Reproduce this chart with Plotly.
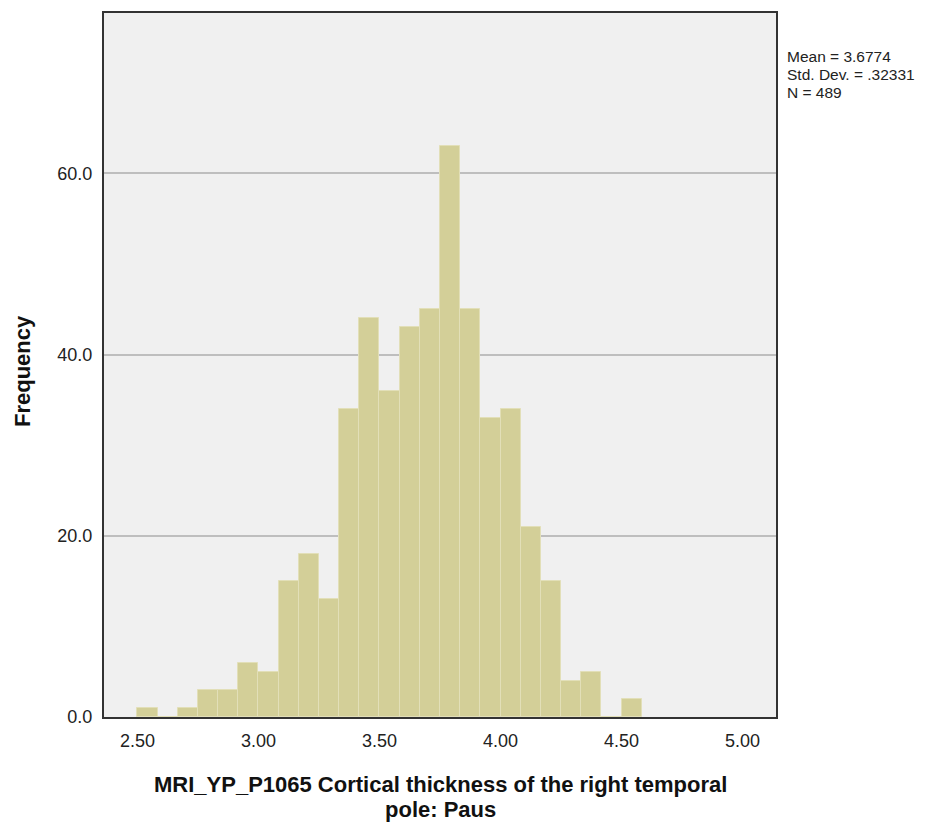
import plotly.graph_objects as go

# histogram bins (left edge of first bin, bin width) and counts
bin_start = 2.50
bin_width = 1 / 12
counts = [1, 0, 1, 3, 3, 6, 5, 15, 18, 13, 34, 44, 36, 43, 45, 63, 45, 33, 34, 21, 15, 4, 5, 0, 2]

x_ticks = [2.5, 3.0, 3.5, 4.0, 4.5, 5.0]
x_tick_labels = ["2.50", "3.00", "3.50", "4.00", "4.50", "5.00"]
y_ticks = [0, 20, 40, 60]
y_tick_labels = ["0.0", "20.0", "40.0", "60.0"]

stats_lines = ["Mean = 3.6774", "Std. Dev. = .32331", "N = 489"]
x_title_lines = ["MRI_YP_P1065 Cortical thickness of the right temporal", "pole: Paus"]
y_title = "Frequency"

centers = [bin_start + bin_width * (i + 0.5) for i in range(len(counts))]

fig = go.Figure()
fig.add_trace(go.Bar(
    x=centers,
    y=counts,
    width=bin_width,
    marker=dict(color="#D3CF98", line=dict(color="#E2DFB8", width=1)),
    hoverinfo="x+y",
))

# page body adds an 8px margin, so the figure is drawn 8px smaller
fig.update_layout(
    width=932, height=820,
    margin=dict(l=96, r=164, t=3, b=111),
    paper_bgcolor="white",
    plot_bgcolor="#F0F0F0",
    showlegend=False,
    bargap=0,
    font=dict(family="Liberation Sans, Arial", size=18, color="#222222"),
)

fig.update_xaxes(
    range=[2.362, 5.138],
    tickvals=x_ticks, ticktext=x_tick_labels,
    showgrid=False, zeroline=False,
    showline=True, linecolor="#333333", linewidth=2, mirror=True,
    ticks="", ticklabelstandoff=6,
)
fig.update_yaxes(
    range=[0, 77.7],
    tickvals=y_ticks, ticktext=y_tick_labels,
    showgrid=True, gridcolor="#BEBEBE", gridwidth=1.5,
    zeroline=False,
    showline=True, linecolor="#333333", linewidth=2, mirror=True,
    ticks="", ticklabelstandoff=6,
)

for i, line in enumerate(stats_lines):
    fig.add_annotation(
        text=line, xref="paper", yref="paper",
        x=1.0, y=1.0, xshift=9, yshift=-43 - 18 * i,
        xanchor="left", yanchor="middle", align="left", showarrow=False,
        font=dict(family="Liberation Sans, Arial", size=15.5, color="#222222"),
    )

for i, line in enumerate(x_title_lines):
    fig.add_annotation(
        text="<b>" + line + "</b>", xref="paper", yref="paper",
        x=0.5, y=0, yshift=-67 - 25 * i, xanchor="center", yanchor="middle",
        showarrow=False,
        font=dict(family="Liberation Sans, Arial", size=22, color="#111111"),
    )

fig.add_annotation(
    text="<b>" + y_title + "</b>", xref="paper", yref="paper",
    x=0, y=0.5, xshift=-82, yshift=-6, xanchor="center", yanchor="middle",
    textangle=-90, showarrow=False,
    font=dict(family="Liberation Sans, Arial", size=22, color="#111111"),
)

fig.write_html("out.html")
